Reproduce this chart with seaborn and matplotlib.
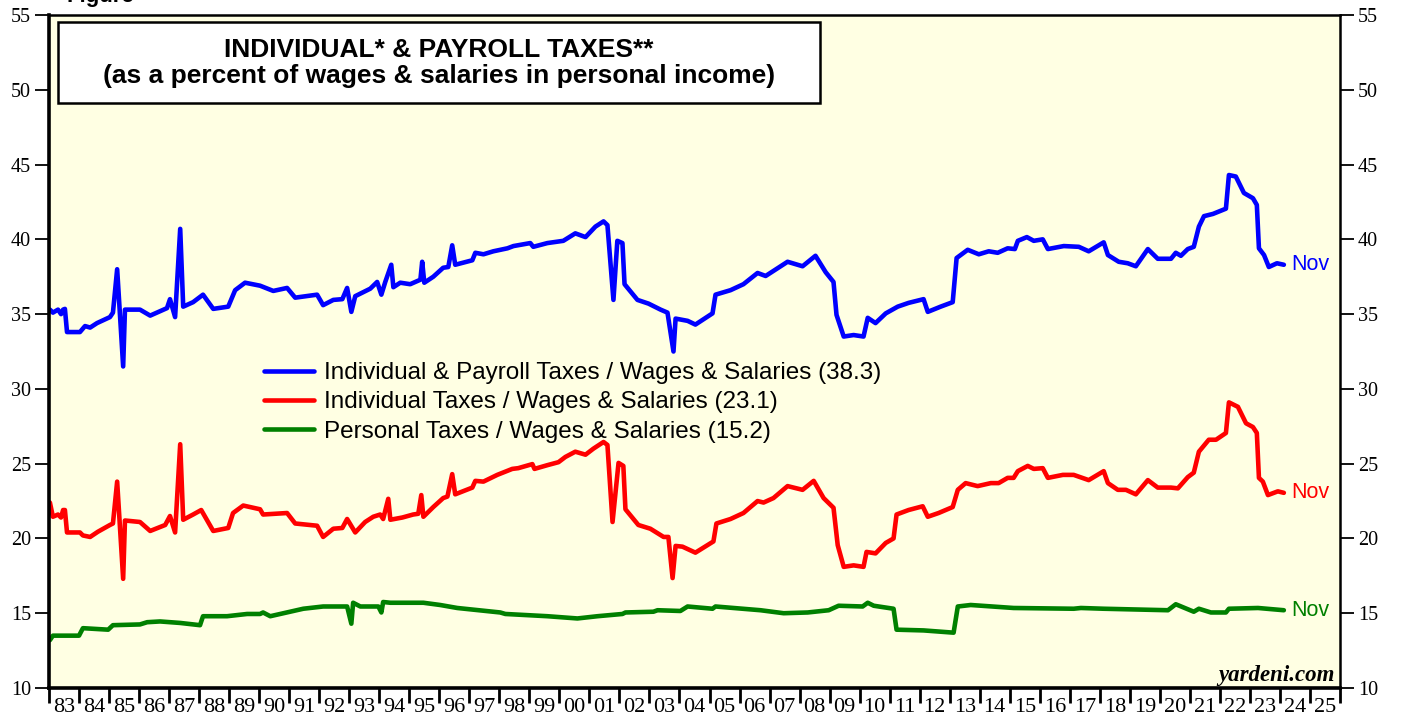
import numpy as np
import pandas as pd
import matplotlib
matplotlib.use("Agg")
import matplotlib.pyplot as plt
from matplotlib.patches import Rectangle
import seaborn as sns

# ---- data (decimal year, percent) ----
blue_years = [1983.03, 1983.13, 1983.3, 1983.4, 1983.47, 1983.53, 1983.6, 1984.03, 1984.2, 1984.37,
              1984.6, 1985.03, 1985.13, 1985.27, 1985.47, 1985.53, 1986.03, 1986.37, 1986.93, 1987.03,
              1987.2, 1987.37, 1987.47, 1987.8, 1988.13, 1988.47, 1988.97, 1989.2, 1989.53, 1990.03,
              1990.47, 1990.93, 1991.2, 1991.93, 1992.13, 1992.47, 1992.77, 1992.93, 1993.07, 1993.2,
              1993.7, 1993.93, 1994.07, 1994.2, 1994.4, 1994.47, 1994.7, 1995.03, 1995.37, 1995.43,
              1995.5, 1995.8, 1996.13, 1996.3, 1996.43, 1996.53, 1997.1, 1997.2, 1997.47, 1997.8,
              1998.27, 1998.47, 1999.03, 1999.13, 1999.6, 2000.13, 2000.53, 2000.87, 2001.2, 2001.47,
              2001.6, 2001.8, 2001.93, 2002.1, 2002.17, 2002.6, 2002.97, 2003.37, 2003.6, 2003.8,
              2003.87, 2004.27, 2004.53, 2005.1, 2005.2, 2005.7, 2006.13, 2006.6, 2006.87, 2007.6,
              2008.1, 2008.53, 2008.87, 2009.13, 2009.23, 2009.47, 2009.8, 2010.13, 2010.27, 2010.53,
              2010.87, 2011.27, 2011.63, 2012.13, 2012.27, 2012.7, 2013.1, 2013.23, 2013.6, 2013.97,
              2014.3, 2014.6, 2014.93, 2015.17, 2015.27, 2015.57, 2015.8, 2016.1, 2016.27, 2016.8,
              2017.3, 2017.63, 2018.13, 2018.27, 2018.63, 2018.93, 2019.2, 2019.6, 2019.93, 2020.37,
              2020.53, 2020.7, 2020.93, 2021.13, 2021.3, 2021.47, 2021.77, 2022.2, 2022.3, 2022.53,
              2022.8, 2023.1, 2023.23, 2023.3, 2023.47, 2023.63, 2023.9, 2024.13]
blue_vals = [35.3, 35.1, 35.3, 35.0, 35.3, 35.35, 33.8, 33.8, 34.2, 34.1,
             34.4, 34.8, 35.1, 38.0, 31.5, 35.3, 35.3, 34.9, 35.4, 36.0,
             34.8, 40.7, 35.5, 35.8, 36.3, 35.35, 35.5, 36.6, 37.1, 36.9,
             36.55, 36.75, 36.1, 36.3, 35.6, 35.95, 36.0, 36.75, 35.15, 36.2,
             36.7, 37.15, 36.3, 37.15, 38.3, 36.8, 37.1, 37.0, 37.3, 38.5,
             37.1, 37.5, 38.1, 38.15, 39.6, 38.3, 38.6, 39.1, 39.0, 39.2,
             39.4, 39.55, 39.75, 39.5, 39.75, 39.9, 40.4, 40.15, 40.85, 41.2,
             40.95, 35.95, 39.9, 39.75, 37.0, 35.95, 35.7, 35.3, 35.1, 32.5,
             34.7, 34.55, 34.3, 35.05, 36.3, 36.6, 37.0, 37.75, 37.55, 38.5,
             38.2, 38.9, 37.8, 37.15, 34.95, 33.5, 33.6, 33.5, 34.75, 34.4,
             35.05, 35.5, 35.75, 36.0, 35.15, 35.5, 35.8, 38.75, 39.3, 39.0,
             39.2, 39.1, 39.4, 39.35, 39.9, 40.15, 39.9, 40.0, 39.35, 39.55,
             39.5, 39.2, 39.8, 38.95, 38.5, 38.4, 38.2, 39.35, 38.7, 38.7,
             39.1, 38.9, 39.35, 39.5, 40.85, 41.55, 41.7, 42.05, 44.3, 44.2,
             43.1, 42.75, 42.3, 39.4, 38.95, 38.15, 38.4, 38.3]

red_years = [1983.03, 1983.13, 1983.3, 1983.4, 1983.47, 1983.53, 1983.6, 1984.03, 1984.13, 1984.37,
             1984.63, 1985.03, 1985.13, 1985.27, 1985.47, 1985.53, 1986.03, 1986.37, 1986.87, 1987.03,
             1987.2, 1987.37, 1987.47, 1987.8, 1988.07, 1988.47, 1988.97, 1989.13, 1989.47, 1990.03,
             1990.13, 1990.93, 1991.2, 1991.93, 1992.13, 1992.47, 1992.77, 1992.93, 1993.2, 1993.53,
             1993.8, 1994.03, 1994.13, 1994.3, 1994.37, 1994.77, 1995.13, 1995.3, 1995.4, 1995.47,
             1995.8, 1996.13, 1996.27, 1996.43, 1996.53, 1997.1, 1997.2, 1997.47, 1997.93, 1998.43,
             1998.63, 1999.1, 1999.17, 1999.6, 1999.97, 2000.2, 2000.53, 2000.87, 2001.13, 2001.47,
             2001.6, 2001.77, 2001.97, 2002.13, 2002.2, 2002.63, 2003.03, 2003.47, 2003.63, 2003.77,
             2003.87, 2004.1, 2004.53, 2005.13, 2005.23, 2005.7, 2006.13, 2006.6, 2006.8, 2007.13,
             2007.6, 2008.1, 2008.47, 2008.8, 2009.13, 2009.27, 2009.47, 2009.8, 2010.13, 2010.23,
             2010.53, 2010.87, 2011.13, 2011.23, 2011.63, 2012.1, 2012.27, 2012.63, 2013.1, 2013.27,
             2013.53, 2013.93, 2014.37, 2014.63, 2014.93, 2015.13, 2015.27, 2015.6, 2015.8, 2016.1,
             2016.27, 2016.77, 2017.13, 2017.63, 2018.13, 2018.27, 2018.6, 2018.87, 2019.2, 2019.6,
             2019.93, 2020.37, 2020.6, 2020.93, 2021.13, 2021.3, 2021.63, 2021.87, 2022.2, 2022.3,
             2022.6, 2022.87, 2023.1, 2023.23, 2023.3, 2023.43, 2023.6, 2023.93, 2024.13]
red_vals = [22.4, 21.45, 21.6, 21.4, 21.9, 21.9, 20.4, 20.4, 20.2, 20.1,
            20.45, 20.9, 21.0, 23.8, 17.3, 21.2, 21.1, 20.5, 20.9, 21.5,
            20.4, 26.3, 21.25, 21.6, 21.9, 20.5, 20.7, 21.7, 22.2, 21.95,
            21.6, 21.7, 21.0, 20.85, 20.1, 20.65, 20.7, 21.3, 20.4, 21.1,
            21.45, 21.6, 21.3, 22.65, 21.25, 21.4, 21.6, 21.65, 22.9, 21.45,
            22.1, 22.7, 22.8, 24.3, 22.95, 23.4, 23.85, 23.8, 24.25, 24.65,
            24.7, 24.97, 24.65, 24.9, 25.1, 25.45, 25.8, 25.6, 26.0, 26.45,
            26.25, 21.1, 25.05, 24.85, 21.95, 20.9, 20.65, 20.1, 20.1, 17.35,
            19.5, 19.45, 19.05, 19.8, 21.0, 21.3, 21.7, 22.5, 22.4, 22.7,
            23.5, 23.25, 23.85, 22.7, 22.05, 19.55, 18.1, 18.2, 18.1, 19.1,
            19.0, 19.7, 20.0, 21.6, 21.9, 22.15, 21.45, 21.7, 22.1, 23.25,
            23.7, 23.5, 23.7, 23.7, 24.05, 24.05, 24.5, 24.85, 24.65, 24.7,
            24.05, 24.25, 24.25, 23.9, 24.5, 23.7, 23.25, 23.25, 22.95, 23.9,
            23.4, 23.4, 23.35, 24.1, 24.4, 25.8, 26.6, 26.6, 27.05, 29.1,
            28.8, 27.7, 27.45, 27.05, 24.05, 23.8, 22.9, 23.15, 23.05]

green_years = [1983.03, 1983.13, 1984.0, 1984.13, 1984.97, 1985.13, 1986.03, 1986.27, 1986.7, 1987.37,
               1988.03, 1988.13, 1988.93, 1989.6, 1990.03, 1990.13, 1990.37, 1990.7, 1991.47, 1992.13,
               1992.93, 1993.07, 1993.13, 1993.37, 1993.97, 1994.07, 1994.13, 1994.37, 1995.47, 1996.03,
               1996.6, 1998.03, 1998.2, 1999.6, 2000.6, 2001.27, 2002.1, 2002.2, 2003.13, 2003.27,
               2004.03, 2004.27, 2005.1, 2005.2, 2006.7, 2007.47, 2008.27, 2008.97, 2009.3, 2010.1,
               2010.27, 2010.47, 2011.13, 2011.23, 2012.13, 2013.13, 2013.27, 2013.7, 2015.13, 2017.13,
               2017.37, 2018.13, 2020.27, 2020.53, 2021.13, 2021.3, 2021.7, 2022.2, 2022.3, 2023.27,
               2024.13]
green_vals = [13.2, 13.5, 13.5, 14.0, 13.9, 14.2, 14.25, 14.4, 14.45, 14.35,
              14.2, 14.8, 14.8, 14.95, 14.95, 15.05, 14.8, 14.95, 15.3, 15.45,
              15.45, 14.3, 15.7, 15.45, 15.45, 15.05, 15.75, 15.7, 15.7, 15.55,
              15.35, 15.05, 14.95, 14.8, 14.65, 14.8, 14.95, 15.05, 15.1, 15.2,
              15.15, 15.45, 15.3, 15.45, 15.2, 15.0, 15.05, 15.2, 15.5, 15.45,
              15.7, 15.5, 15.3, 13.9, 13.85, 13.7, 15.45, 15.55, 15.35, 15.3,
              15.35, 15.3, 15.2, 15.6, 15.1, 15.3, 15.05, 15.05, 15.3, 15.35,
              15.2]

series_labels = ["Individual & Payroll Taxes / Wages & Salaries (38.3)",
                 "Individual Taxes / Wages & Salaries (23.1)",
                 "Personal Taxes / Wages & Salaries (15.2)"]
series_colors = ["#0000FF", "#FF0000", "#008000"]
year_labels = [f"{y % 100:02d}" for y in range(1983, 2026)]

df = pd.concat([
    pd.DataFrame({"year": blue_years, "value": blue_vals, "series": series_labels[0]}),
    pd.DataFrame({"year": red_years, "value": red_vals, "series": series_labels[1]}),
    pd.DataFrame({"year": green_years, "value": green_vals, "series": series_labels[2]}),
], ignore_index=True)

sns.set_style("ticks")
plt.rcParams["font.family"] = ["Liberation Sans", "DejaVu Sans"]
plt.rcParams.update({"text.color": "black", "axes.edgecolor": "black",
                     "xtick.color": "black", "ytick.color": "black",
                     "axes.labelcolor": "black"})

fig = plt.figure(figsize=(14.05, 7.17), dpi=100)
ax = fig.add_axes([49 / 1405, 1 - 688 / 717, (1340 - 49) / 1405, (688 - 15) / 717])
ax.set_facecolor("#FFFFE3")

sns.lineplot(data=df, x="year", y="value", hue="series", hue_order=series_labels,
             palette=dict(zip(series_labels, series_colors)), linewidth=3.3,
             sort=False, estimator=None, ax=ax, legend=False)

ax.set_xlim(1983, 2026)
ax.set_ylim(10, 55)
ax.set_xlabel("")
ax.set_ylabel("")

# y axis: ticks on both sides, serif labels
yt = np.arange(10, 56, 5)
ax.set_yticks(yt)
ax.set_yticklabels([str(v) for v in yt], family="Liberation Serif", fontsize=14.5)
ax.tick_params(axis="y", which="major", direction="out", length=10, width=1.3,
               left=True, right=True, labelleft=True, labelright=True, pad=3)

# x axis: year boundaries as ticks, labels centered in each year
ax.set_xticks(np.arange(1983, 2027))
ax.set_xticklabels([])
ax.set_xticks(np.arange(1983, 2026) + 0.5, minor=True)
ax.set_xticklabels(year_labels, minor=True, family="Liberation Serif", fontsize=16)
ax.tick_params(axis="x", which="major", direction="out", length=11, width=2)
ax.tick_params(axis="x", which="minor", length=0, pad=7.5)

for side in ["left", "bottom"]:
    ax.spines[side].set_linewidth(2.6)
for side in ["top", "right"]:
    ax.spines[side].set_visible(True)
    ax.spines[side].set_linewidth(1.8)

# clipped figure label at the very top
fig.text(67 / 1405, 1 - 2 / 717, "Figure", ha="left", va="baseline",
         fontsize=16, fontweight="bold")

# title box
fig.text(439 / 1405, 1 - 63 / 717,
         "INDIVIDUAL* & PAYROLL TAXES**\n(as a percent of wages & salaries in personal income)",
         ha="center", va="center", fontsize=19, fontweight="bold", linespacing=1.15,
         zorder=5)
fig.patches.append(Rectangle((58 / 1405, 1 - 103 / 717), (820 - 58) / 1405, (103 - 22) / 717,
                             transform=fig.transFigure, facecolor="white", edgecolor="black",
                             linewidth=1.8, zorder=4))

# legend (lines + labels, no frame)
handles = [plt.Line2D([], [], color=c, linewidth=3.3) for c in series_colors]
fig.legend(handles, series_labels, loc="upper left", bbox_to_anchor=(264 / 1405, 1 - 362 / 717),
           frameon=False, fontsize=17.5, handlelength=2.05, handletextpad=0.4,
           labelspacing=0.3, borderpad=0, borderaxespad=0)

# end labels
ends = [(blue_years[-1], blue_vals[-1]), (red_years[-1], red_vals[-1]), (green_years[-1], green_vals[-1])]
for (x, y), c in zip(ends, series_colors):
    ax.annotate("Nov", (x, y), xytext=(5, 0), textcoords="offset points",
                color=c, fontsize=15.5, va="center", ha="left")

ax.text(1335 / 1405, 1 - 681 / 717, "yardeni.com", transform=fig.transFigure,
        ha="right", va="baseline", family="Liberation Serif", fontsize=16.5,
        fontweight="bold", style="italic")

fig.savefig("out.png", dpi=100, facecolor="white")
